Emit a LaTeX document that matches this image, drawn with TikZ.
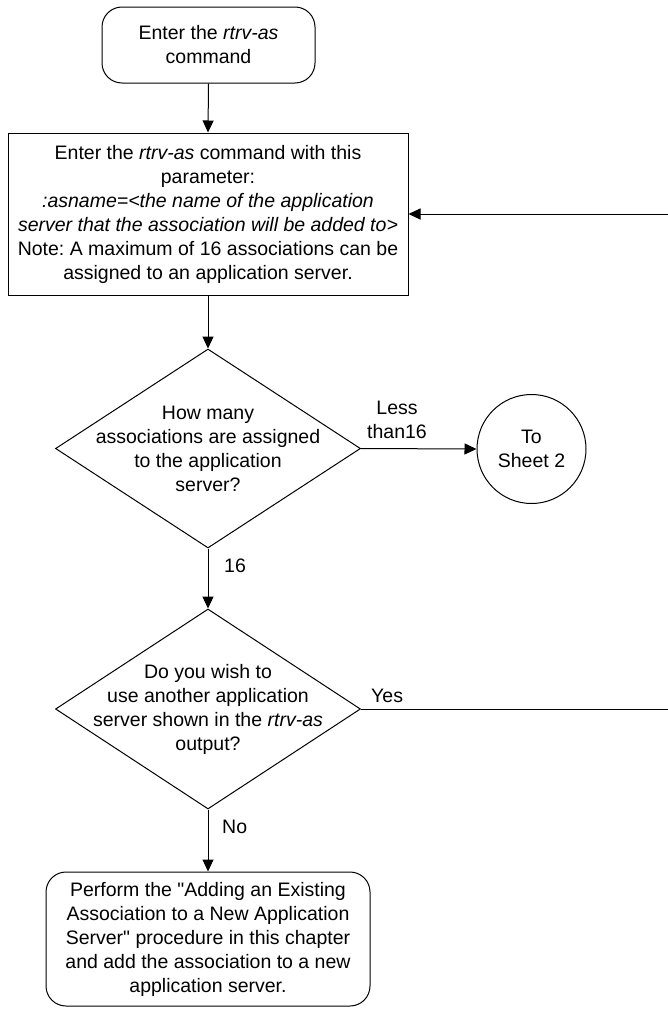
\documentclass[tikz,border=0pt]{standalone}
\usepackage{fontspec}
\setmainfont{Liberation Sans}
\usetikzlibrary{shapes.geometric,arrows.meta}
\frenchspacing
\begin{document}
\begin{tikzpicture}[x=1pt,y=-1pt,
  every node/.style={font=\fontsize{19.5}{24}\selectfont, inner sep=0pt},
  line/.style={draw=black, line width=1pt},
  arr/.style={line, -{Triangle[length=12pt,width=11pt]}},
  roundbox/.style={draw, line width=1pt, rounded corners=20pt, align=center},
  rectbox/.style={draw, line width=1pt, align=center},
  decision/.style={draw, line width=1pt, diamond, inner sep=0pt},
  connector/.style={draw, line width=1pt, circle, align=center},
  txt/.style={align=center},
  lbl/.style={align=center}
]
\useasboundingbox (0,0) rectangle (668,1009);
\clip (0,0) rectangle (668,1009);

\node[roundbox, minimum width=213pt, minimum height=76pt] (top) at (208.5,45) {Enter the \textit{rtrv-as}\\command};

\node[rectbox, minimum width=400pt, minimum height=162pt] (rect) at (208,214) {Enter the \textit{rtrv-as} command with this\\parameter:\\\textit{:asname=<the name of the application}\\\textit{server that the association will be added to>}\\Note: A maximum of 16 associations can be\\assigned to an application server.};

\node[decision, minimum width=305pt, minimum height=199pt] (d1) at (208,448.5) {};
\node[txt] (d1t) at (208,449) {How many\\associations are assigned\\to the application\\server?};

\node[connector, minimum size=109pt] (circ) at (531.5,449) {To\\Sheet 2};

\node[decision, minimum width=305pt, minimum height=200pt] (d2) at (208,709) {};
\node[txt] (d2t) at (208,709) {Do you wish to\\use another application\\server shown in the \textit{rtrv-as}\\output?};

\node[roundbox, minimum width=324pt, minimum height=134pt] (bot) at (208,939) {Perform the \textquotedbl Adding an Existing\\Association to a New Application\\Server\textquotedbl{} procedure in this chapter\\and add the association to a new\\application server.};

\coordinate (rt) at (669,709);

\draw[arr] (top.south) -- (rect.north);
\draw[arr] (rect.south) -- (d1.north);
\draw[arr] (d1.east) -- (circ.west);
\draw[arr] (d1.south) -- (d2.north);
\draw[arr] (d2.south) -- (bot.north);
\draw[arr] (d2.east) -- (rt) |- (rect.east);

\node[lbl] (lless) at (397,420) {Less\\than16};
\node[lbl, anchor=west] (l16) at (224,566) {16};
\node[lbl, anchor=west] (lyes) at (371,696) {Yes};
\node[lbl, anchor=west] (lno) at (222,827) {No};
\end{tikzpicture}
\end{document}
